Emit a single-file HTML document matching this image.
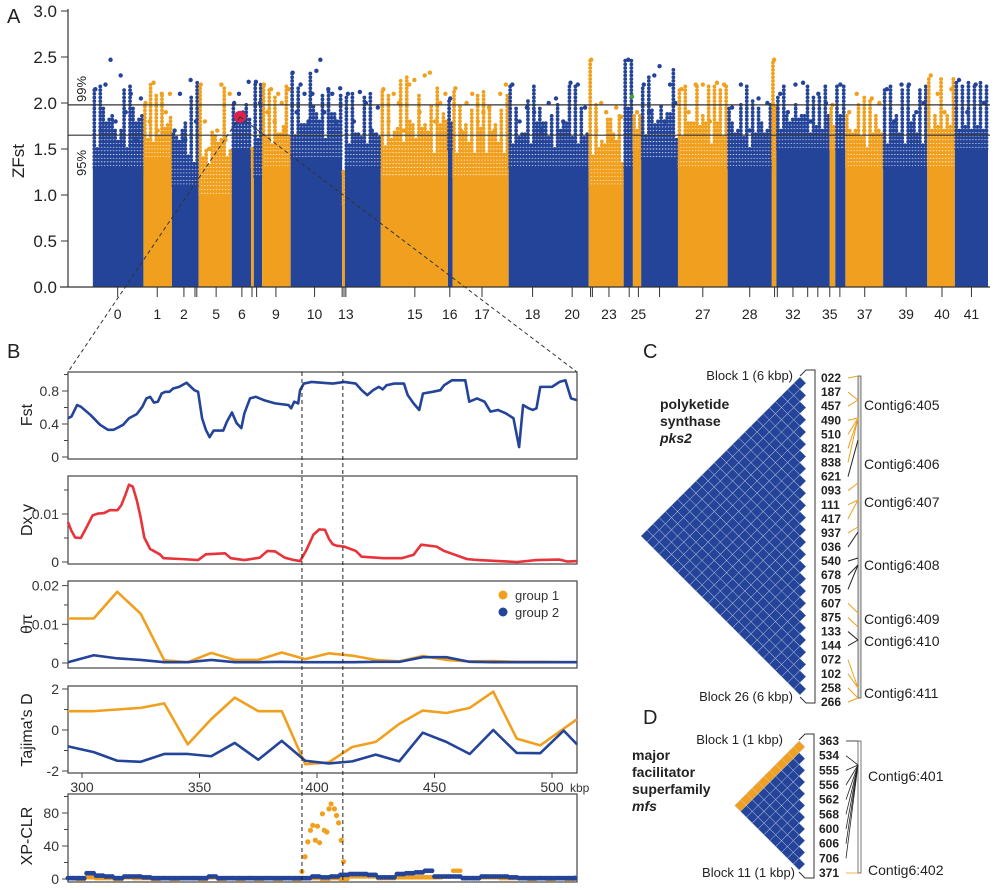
<!DOCTYPE html>
<html><head><meta charset="utf-8"><style>
html,body{margin:0;padding:0;background:#fff;}
svg{display:block;font-family:"Liberation Sans",sans-serif;}
</style></head><body>
<svg id="fig" width="997" height="890" viewBox="0 0 997 890" xmlns="http://www.w3.org/2000/svg">
<g id="gA"></g>
<g id="gB"></g>
<g id="gC"></g>
<g id="gD"></g>
</svg>
<script>
const BLUE='#24449a', ORANGE='#f0a01e', RED='#e8333a';
// ---------- Panel A data ----------
const segStart=[2.7,8.2,11.3,14.2,17.8,19.9,20.2,21.1,24.2,29.8,30.1,34.0,41.3,41.8,47.9,56.6,60.4,61.4,62.3,66.3,71.7,76.5,77.0,82.8,83.4,84.5,88.6,93.4,96.4];
const segEnd  =[8.2,11.3,14.2,17.8,19.9,20.2,21.1,24.2,29.8,30.1,34.0,41.3,41.8,47.9,56.6,60.4,61.4,62.3,66.3,71.7,76.5,77.0,82.8,83.4,84.5,88.6,93.4,96.4,100];
const segDense=[1.3,1.4,1.1,1.0,1.5,1.3,1.2,1.3,1.4,0.9,1.3,1.2,1.5,1.2,1.3,1.1,1.3,1.5,1.4,1.3,1.3,1.4,1.5,1.5,1.5,1.3,1.3,1.3,1.5];
const segTops=[[2.15,1.7,2.2,2.47,1.8,2.3,1.9,2.1,1.6,2.05],[2.0,1.8,2.22,1.7,2.1,1.9,2.1],[1.7,2.1,1.6,2.25,1.8],[2.2,1.8,1.5,1.6,1.7,2.2,1.6,2.1],[2.0,2.1,1.8,2.23],[1.5],[2.23,2.0],[2.2,1.9,2.15,1.8,2.1,2.0,1.7,2.15],[2.33,1.9,2.2,2.1,1.8,2.1,2.35,2.47,1.9,2.15,2.1,1.8,2.16],[1.25],[2.1,1.8,2.12,2.0,1.7,1.95],[2.15,1.8,2.1,2.0,1.7,2.2,2.25,1.9,2.3,2.33,1.8,2.0,2.1],[2.05],[2.16,1.7,2.0,2.1,1.8,1.9,1.95,1.7,2.1,2.2],[2.2,1.8,1.95,1.9,1.7,2.0,2.05,1.8,2.22,2.2,1.95],[2.47,1.7,2.0,1.9,1.6,1.95,1.85],[2.47],[1.9],[2.2,1.9,2.3,2.4,1.8,2.2,2.0],[2.15,1.9,2.2,2.2,1.8,2.22,2.2],[1.95,2.2,1.7,2.05,2.0],[2.47],[2.1,1.9,2.2,2.22,1.8,2.1,2.0],[1.98],[2.2],[1.9,2.1,1.7,2.05,2.0],[2.15,1.8,2.2,2.2,1.9,2.0],[2.3,2.1,1.9,2.15],[2.25,1.9,2.2,2.0]];
const contigLabels=['0','1','2','5','6','9','10','13','15','16','17','18','20','23','25','27','28','32','35','37','39','40','41'];
const contigPos=[5.4,9.7,12.6,16.1,18.9,22.6,26.8,30.2,37.7,41.5,45,50.5,54.8,58.8,62,69,74.1,78.8,82.8,86.6,91.1,95,98.2];
const minorTicks=[13.8,14.0,20.0,20.5,29.8,30.0,56.8,57.0,61.0,64.3,76.8,77.1,80.4,81.5,83.9];
const yTicksA=[0,0.5,1.0,1.5,2.0,2.5,3.0];
const thr99=1.98, thr95=1.65;
const hitPos=18.7, hitVal=1.85;

// ---------- Panel B data ----------
const fstK=[293,295.5,297.9,299.5,303.6,307.7,311,313.5,317.5,320,323.3,325.7,327.4,329,330.6,332.3,333.9,335.5,337.2,338.8,341.3,344.5,347.8,349.4,351.1,352.7,354.3,356,360.1,361.7,363.8,365.8,367.8,369.1,371.5,374,377.3,382.2,387.9,389,390.3,392,392.8,394.4,397.7,406.7,411.6,416.5,419,421.4,423.9,426.3,428,429.6,432.9,437,438.6,441.1,443.5,445.1,449.2,452.5,454.1,457.4,463.1,464.8,468.1,471.3,473.8,477,480.3,483.6,486,487.7,490.1,491.8,493.4,495,500,503.2,505.7,508.1,510.6];
const fstV=[.47,.49,.63,.61,.51,.39,.33,.33,.39,.47,.52,.61,.71,.73,.66,.67,.77,.79,.79,.83,.85,.90,.81,.79,.47,.33,.24,.32,.32,.43,.54,.41,.35,.53,.71,.73,.69,.65,.63,.59,.67,.65,.81,.89,.91,.89,.91,.89,.81,.75,.81,.85,.82,.87,.89,.89,.75,.65,.57,.77,.79,.81,.87,.93,.93,.67,.71,.67,.55,.57,.53,.47,.12,.63,.59,.57,.59,.85,.85,.91,.93,.71,.69];
const dxyK=[293,295.5,297.1,299.5,302,304.5,306.9,309.4,311.8,315.1,316.7,318.4,320,321.6,323.3,324.9,326.5,329,333.1,334.7,342.9,349.4,352.7,360.9,363.3,369.1,375.6,378.9,382.2,386.3,390.3,392.8,395.3,398.5,401,403.4,405.1,406.7,408.3,411.6,416.5,419,428,436.2,441.1,444.3,450.9,454.1,463.9,468.9,477,485.2,493.4,503.2,506.5,510.6];
const dxyV=[.0083,.0065,.0051,.0050,.0073,.0097,.0101,.0102,.0108,.0108,.0118,.0139,.0161,.0157,.0129,.0094,.0051,.0027,.0016,.0008,.0006,.0004,.0016,.0018,.0008,.0004,.0009,.0023,.0022,.0009,.0004,.0002,.0023,.0057,.0068,.0067,.0048,.0037,.0034,.0032,.0023,.0011,.0008,.0008,.0015,.0036,.0032,.0023,.0006,.0004,.0002,0,.0004,.0005,.0001,.0002];
const piK=[293,305,315,325,335,345,355,365,375,385,395,405,415,425,435,445,455,465,475,485,495,505,511];
const piG1=[.0115,.0115,.0184,.0127,.0007,.0002,.0026,.0008,.0008,.0027,.001,.0025,.0019,.0008,.0004,.0018,.0008,.0004,.0005,.0003,.0003,.0002,.0002];
const piG2=[.0002,.002,.0012,.0008,.0002,.0002,.0008,.0002,.0002,.0003,.0002,.0002,.0002,.0003,.0003,.0015,.0015,.0003,.0002,.0002,.0002,.0002,.0002];
const tdK1=[293,305,315,325,335,345,355,365,375,385,395,405,415,425,435,445,455,465,475,485,495,511];
const tdG1=[.92,.92,1.0,1.08,1.3,-.7,.53,1.58,.92,.92,-1.67,-1.58,-.83,-.58,.3,.95,.83,1.08,1.87,-.42,-.75,.53];
const tdK2=[293,305,315,325,335,345,355,365,375,385,395,405,415,425,435,445,455,465,475,485,495,505,511];
const tdG2=[-.8,-1.08,-1.5,-1.55,-1.17,-1.17,-1.28,-.63,-1.45,-.53,-1.5,-1.63,-1.53,-1.2,-1.53,-.13,-.58,-1.17,0,-1.12,-1.13,-.03,-.7];
const xpPeakK=[393.6,394.9,396.1,397.2,398.2,400.2,399.3,401.1,402.3,403.1,404.2,405.1,406,407.4,408.3,409.2,410.3,411.3];
const xpPeakV=[9,27,45,59,65,64,47,44,79,59,57,85,91,85,77,68,47,21];
const xpBaseStart=294, xpBaseStep=4;
const xpBlue=[1,1,7,4,3,1,3,3,2,1,1,1,1,1,1,3,1,1,1,1,1,1,1,1,1,1,3,2,3,5,6,6,5,2,2,6,7,8,10,3,3,3,1,1,3,3,3,2,1,1,1,1,1,1,1];
const xpOrange=[1,0,2,1,1,0,2,1,1,0,1,0,1,1,0,2,0,1,0,1,0,1,0,1,0,1,1,0,1,0,3,3,3,1,1,2,2,2,2,2,3,10,1,1,2,2,1,1,1,0,1,0,1,0,1];
const xTicksB=[300,350,400,450,500];
const selStart=393.6, selEnd=411;

// ---------- Panel C / D data ----------
const pksLabels=['022','187','457','490','510','821','838','621','093','111','417','937','036','540','678','705','607','875','133','144','072','102','258','266'];
const pksTargetY=[376,400,400,418,418,418,418,440,483,500,500,527,532,558,565,565,613,627,640,640,688,688,698,698];
const pksOrange=[1,1,1,1,1,1,1,0,1,1,1,1,0,0,0,0,1,1,0,0,1,1,1,1];
const pksContigs=['Contig6:405','Contig6:406','Contig6:407','Contig6:408','Contig6:409','Contig6:410','Contig6:411'];
const pksContigY=[405,464,502,565,619,641,693];
const mfsLabels=['363','534','555','556','562','568','600','606','706','371'];
const mfsTargetY=[741,765,765,765,765,765,765,765,765,873];
const mfsOrange=[0,0,0,0,0,0,0,0,0,1];
const mfsContigs=['Contig6:401','Contig6:402'];
const mfsContigY=[776,870];

const NS='http://www.w3.org/2000/svg';
function mk(parent,tag,attrs,text){const e=document.createElementNS(NS,tag);for(const k in attrs)e.setAttribute(k,attrs[k]);if(text!==undefined)e.textContent=text;parent.appendChild(e);return e;}

// ===== Panel A =====
(function(){
const g=document.getElementById('gA');
const xA=u=>68+u*9.2, yA=v=>287-v*92;
for(let s=0;s<segStart.length;s++){
  const col=s%2===0?BLUE:ORANGE;
  const x0=xA(segStart[s]), x1=xA(segEnd[s]);
  const r=mk(g,'rect',{x:x0,y:yA(segDense[s]),width:Math.max(1.5,x1-x0),height:yA(0)-yA(segDense[s]),fill:col});
  
  
  const tops=segTops[s], n=tops.length;
  const ncol=Math.max(1,Math.round((x1-x0)/3));
  for(let c=0;c<ncol;c++){
    const cx=x0+(x1-x0)*(c+0.5)/ncol;
    const peak=tops[c%n];
    const top=(c%2===0)?peak:segDense[s]+(peak-segDense[s])*0.55;
    for(let v=segDense[s];v<=top;v+=0.04){
      mk(g,'circle',{cx:cx,cy:yA(v),r:1.9,fill:col});
    }
  }
  for(let j=0;j<n;j++){
    const cx=x0+(x1-x0)*(j+0.5)/n;
    const d=mk(g,'circle',{cx:cx,cy:yA(tops[j]),r:2.2,fill:col});
    
    
  }
}
mk(g,'circle',{cx:xA(61.3),cy:yA(2.07),r:2.2,fill:'#3aa63a'});
// axes
mk(g,'line',{x1:68,y1:9,x2:68,y2:287,stroke:'#333','stroke-width':1.2});
mk(g,'line',{x1:60,y1:287,x2:990,y2:287,stroke:'#333','stroke-width':1.2});
yTicksA.forEach(v=>{mk(g,'line',{x1:61,y1:yA(v),x2:68,y2:yA(v),stroke:'#333'});
  const t=mk(g,'text',{x:57,y:yA(v)+6,'text-anchor':'end','font-size':17,fill:'#222'},v.toFixed(1));
  });
contigLabels.forEach((l,i)=>{const x=xA(contigPos[i]);mk(g,'line',{x1:x,y1:287,x2:x,y2:297,stroke:'#333'});
  const t=mk(g,'text',{x:x,y:319,'text-anchor':'middle','font-size':14,fill:'#222'},l);
  });
minorTicks.forEach(u=>mk(g,'line',{x1:xA(u),y1:287,x2:xA(u),y2:297,stroke:'#333'}));
[thr99,thr95].forEach(v=>{const l=mk(g,'line',{x1:68,y1:yA(v),x2:990,y2:yA(v),stroke:'#333','stroke-width':1.2});
  });
mk(g,'text',{x:0,y:0,transform:'translate(86,102) rotate(-90)','font-size':13,fill:'#222'},'99%');
mk(g,'text',{x:0,y:0,transform:'translate(86,176) rotate(-90)','font-size':13,fill:'#222'},'95%');
const yt=mk(g,'text',{x:0,y:0,transform:'translate(24,178) rotate(-90)','font-size':17,fill:'#222'},'ZFst');

mk(g,'text',{x:7,y:23,'font-size':20,fill:'#222'},'A');
const hd=mk(g,'circle',{cx:xA(hitPos),cy:yA(hitVal),r:6,fill:'#e0204a'});

mk(g,'line',{x1:xA(hitPos),y1:yA(hitVal),x2:68,y2:372,stroke:'#333','stroke-dasharray':'4,3'});
mk(g,'line',{x1:xA(hitPos),y1:yA(hitVal),x2:577,y2:372,stroke:'#333','stroke-dasharray':'4,3'});
})();

// ===== Panel B =====
(function(){
const g=document.getElementById('gB');
const L=68,R=577;
const xB=k=>82+(k-300)*2.35;
mk(g,'text',{x:7,y:358,'font-size':20,fill:'#222'},'B');
function frame(top,bot,name){const r=mk(g,'rect',{x:L,y:top,width:R-L,height:bot-top,fill:'none',stroke:'#444','stroke-width':1.2});
  }
function ticks(yf,major,labels,minor){major.forEach((v,i)=>{mk(g,'line',{x1:62,y1:yf(v),x2:L,y2:yf(v),stroke:'#444'});
  mk(g,'text',{x:59,y:yf(v)+5,'text-anchor':'end','font-size':14,fill:'#333'},labels[i]);});
  minor.forEach(v=>mk(g,'line',{x1:64,y1:yf(v),x2:L,y2:yf(v),stroke:'#444'}));}
function title(txt,y,name){const t=mk(g,'text',{x:0,y:0,transform:'translate(32,'+y+') rotate(-90)','text-anchor':'middle','font-size':16,fill:'#222'},txt);
  }
function line(ks,vs,yf,col,name){const clip=k=>Math.max(L,Math.min(R,xB(k)));
  const p=mk(g,'polyline',{points:ks.map((k,i)=>clip(k)+','+yf(vs[i])).join(' '),fill:'none',stroke:col,'stroke-width':2.6,'stroke-linejoin':'round'});
  }
const yF=v=>457-v*82.5;
frame(372,459,'fst-frame');ticks(yF,[0,0.4,0.8],['0','0.4','0.8'],[0.2,0.6,1.0]);title('Fst',415,'fst-axis-title');
line(fstK,fstV,yF,BLUE,'fst-line');
const yD=v=>562-v*4800;
frame(476,564,'dxy-frame');ticks(yD,[0,0.01],['0','0.01'],[0.005,0.015]);title('Dx y',520,'dxy-axis-title');
line(dxyK,dxyV,yD,RED,'dxy-line');
const yP=v=>663-v*3870;
frame(581,668,'pi-frame');ticks(yP,[0,0.01,0.02],['0','0.01','0.02'],[0.005,0.015]);title('θπ',624,'pi-axis-title');
line(piK,piG1,yP,ORANGE,'pi-group1-line');line(piK,piG2,yP,BLUE,'pi-group2-line');
const lg=mk(g,'g',{});
mk(lg,'circle',{cx:503,cy:595,r:4.5,fill:ORANGE});mk(lg,'text',{x:515,y:600,'font-size':13,fill:'#333'},'group 1');
mk(lg,'circle',{cx:503,cy:612,r:4.5,fill:BLUE});mk(lg,'text',{x:515,y:617,'font-size':13,fill:'#333'},'group 2');
const yT=v=>730-v*20.5;
frame(686,773,'tajima-frame');ticks(yT,[-2,0,2],['-2','0','2'],[-1,1]);title("Tajima's D",730,'tajima-axis-title');
line(tdK1,tdG1,yT,ORANGE,'tajima-group1-line');line(tdK2,tdG2,yT,BLUE,'tajima-group2-line');
xTicksB.forEach(k=>{mk(g,'line',{x1:xB(k),y1:773,x2:xB(k),y2:778,stroke:'#444'});
  const t=mk(g,'text',{x:xB(k),y:792,'text-anchor':'middle','font-size':14,fill:'#333'},String(k));
  });
mk(g,'text',{x:xB(500)+18,y:792,'font-size':12,fill:'#333'},'kbp');
const yX=v=>879-v*0.825;
frame(794,882,'xpclr-frame');ticks(yX,[0,40,80],['0','40','80'],[20,60,100]);title('XP-CLR',836,'xpclr-axis-title');
xpOrange.forEach((v,i)=>{const k=xpBaseStart+i*xpBaseStep;
  for(let d=0;d<4;d++)mk(g,'circle',{cx:Math.min(R-2,xB(k)+d*2.3),cy:yX(v),r:2.3,fill:ORANGE});});
xpBlue.forEach((v,i)=>{const k=xpBaseStart+i*xpBaseStep;
  for(let d=0;d<4;d++)mk(g,'circle',{cx:Math.min(R-2,xB(k)+d*2.3),cy:yX(v),r:2.4,fill:BLUE});});
xpPeakK.forEach((k,i)=>{const c=mk(g,'circle',{cx:xB(k),cy:yX(xpPeakV[i]),r:2.6,fill:ORANGE});
  });
[selStart,selEnd].forEach(k=>{const l=mk(g,'line',{x1:xB(k),y1:372,x2:xB(k),y2:882,stroke:'#222','stroke-dasharray':'4,3','stroke-width':1});
  });
})();

// ===== LD triangles =====
function ld(g,n,xr,yt,yb,orangeRow){
  const s=(yb-yt)/n,h=s/2;
  for(let i=0;i<n;i++)for(let j=i;j<n;j++){
    const cx=xr-(j-i)*h-h, cy=yt+(i+j+1)*h;
    const col=(orangeRow&&i===0)?ORANGE:BLUE;
    mk(g,'polygon',{points:`${cx},${cy-h} ${cx+h},${cy} ${cx},${cy+h} ${cx-h},${cy}`,fill:col,stroke:'#c8d0e8','stroke-width':0.5});
  }
}
function bracket(g,xr,yt,yb){mk(g,'polyline',{points:`${xr-6},${yt+6} ${xr},${yt} ${xr+9},${yt} ${xr+9},${yb} ${xr},${yb} ${xr-6},${yb-6}`,fill:'none',stroke:'#333','stroke-width':1});}
(function(){
const g=document.getElementById('gC');
mk(g,'text',{x:643,y:358,'font-size':20,fill:'#222'},'C');
const tri=mk(g,'g',{});
ld(tri,26,806,377,695,false);
bracket(g,806,370,703);
mk(g,'text',{x:793,y:380,'text-anchor':'end','font-size':13,fill:'#222'},'Block 1 (6 kbp)');
mk(g,'text',{x:793,y:701,'text-anchor':'end','font-size':13,fill:'#222'},'Block 26 (6 kbp)');
['polyketide','synthase'].forEach((t,i)=>mk(g,'text',{x:660,y:409+i*17,'font-size':14,'font-weight':'bold',fill:'#222'},t));
mk(g,'text',{x:660,y:443,'font-size':14,'font-weight':'bold','font-style':'italic',fill:'#222'},'pks2');
const n=pksLabels.length;
mk(g,'rect',{x:858,y:376,width:3,height:322,fill:'#ddd',stroke:'#555','stroke-width':0.8});
pksLabels.forEach((l,i)=>{const y=378+i*(702-378)/(n-1);
  const t=mk(g,'text',{x:821,y:y+4,'font-size':12,'font-weight':'bold',fill:'#222'},l);
  
  mk(g,'line',{x1:848,y1:y,x2:858,y2:pksTargetY[i],stroke:pksOrange[i]?ORANGE:'#222','stroke-width':1});});
pksContigs.forEach((c,i)=>{const t=mk(g,'text',{x:864,y:pksContigY[i]+5,'font-size':14,fill:'#222'},c);
  });
})();
(function(){
const g=document.getElementById('gD');
mk(g,'text',{x:643,y:724,'font-size':20,fill:'#222'},'D');
const tri=mk(g,'g',{});
ld(tri,11,805,741,870,true);
bracket(g,805,734,878);
mk(g,'text',{x:783,y:744,'text-anchor':'end','font-size':13,fill:'#222'},'Block 1 (1 kbp)');
mk(g,'text',{x:795,y:877,'text-anchor':'end','font-size':13,fill:'#222'},'Block 11 (1 kbp)');
['major','facilitator','superfamily'].forEach((t,i)=>mk(g,'text',{x:632,y:760+i*17,'font-size':14,'font-weight':'bold',fill:'#222'},t));
mk(g,'text',{x:632,y:811,'font-size':14,'font-weight':'bold','font-style':'italic',fill:'#222'},'mfs');
mk(g,'rect',{x:858,y:741,width:3,height:132,fill:'#fff',stroke:'#555','stroke-width':0.8});
const n=mfsLabels.length;
mfsLabels.forEach((l,i)=>{const y=741+i*(873-741)/(n-1);
  const t=mk(g,'text',{x:819,y:y+4,'font-size':12,'font-weight':'bold',fill:'#222'},l);
  
  mk(g,'line',{x1:846,y1:y,x2:858,y2:mfsTargetY[i],stroke:mfsOrange[i]?ORANGE:'#222','stroke-width':0.8});});
mfsContigs.forEach((c,i)=>{const t=mk(g,'text',{x:868,y:mfsContigY[i]+5,'font-size':14,fill:'#222'},c);
  });
})();
</script>
</body></html>
